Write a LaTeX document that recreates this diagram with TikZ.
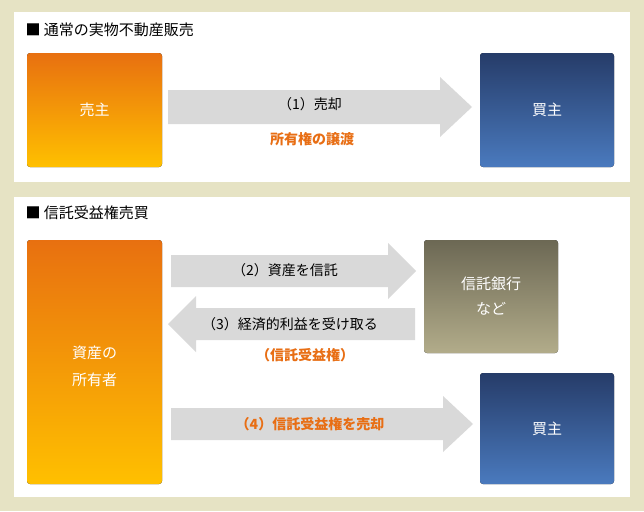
\documentclass[tikz,border=0pt]{standalone}
\usepackage{fontspec}
\setmainfont{Noto Sans CJK JP}
\definecolor{bg}{RGB}{230,227,196}
\definecolor{arrgray}{RGB}{217,217,217}
\definecolor{otext}{RGB}{232,110,20}
\definecolor{otop}{RGB}{232,112,16}
\definecolor{obot}{RGB}{255,192,0}
\definecolor{btop}{RGB}{38,60,105}
\definecolor{bbot}{RGB}{74,122,190}
\definecolor{gtop}{RGB}{108,104,84}
\definecolor{gbot}{RGB}{178,172,138}
\begin{document}
\begin{tikzpicture}[x=1pt,y=-1pt,
  orangebox/.style={rounded corners=3pt,top color=otop,bottom color=obot},
  bluebox/.style={rounded corners=3pt,top color=btop,bottom color=bbot},
  graybox/.style={rounded corners=3pt,top color=gtop,bottom color=gbot},
  arr/.style={fill=arrgray},
  lbl/.style={font=\fontsize{14}{16}\selectfont,text=black},
  olbl/.style={font=\fontsize{14}{16}\selectfont\bfseries,text=otext},
  wlbl/.style={font=\fontsize{15}{17}\selectfont,text=white,align=center}]
\useasboundingbox (0,0) rectangle (644,511);
\fill[bg] (0,0) rectangle (644,511);
\fill[white] (14,12) rectangle (630,182);
\fill[white] (14,197) rectangle (630,497);
\node[anchor=west,font=\fontsize{15}{17}\selectfont] (t1) at (22,30) {■ 通常の実物不動産販売};
\node[anchor=west,font=\fontsize{15}{17}\selectfont] (t2) at (22,213) {■ 信託受益権売買};
% panel 1
\fill[orangebox] (27,53) rectangle (162,167);
\node[wlbl] (seller) at (94.5,110) {売主};
\fill[bluebox] (480,53) rectangle (614,167);
\node[wlbl] (buyer1) at (547,110) {買主};
\fill[arr] (168,90) -- (440,90) -- (440,77) -- (472,107) -- (440,137) -- (440,124) -- (168,124) -- cycle;
\node[lbl] (l1) at (310,104) {（1）売却};
\node[olbl] (o1) at (312,139) {所有権の譲渡};
% panel 2
\fill[orangebox] (27,240) rectangle (162,484);
\node[wlbl] (owner) at (94.5,366) {資産の\\[10pt]所有者};
\fill[graybox] (424,240) rectangle (558,353);
\node[wlbl] (bank) at (491,296) {信託銀行\\[8pt]など};
\fill[bluebox] (480,373) rectangle (614,484);
\node[wlbl] (buyer2) at (547,429) {買主};
\fill[arr] (171,255) -- (388,255) -- (388,243) -- (416,271) -- (388,299) -- (388,287) -- (171,287) -- cycle;
\node[lbl] (l2) at (285,270) {（2）資産を信託};
\fill[arr] (415,308) -- (196,308) -- (196,296) -- (168,324) -- (196,352) -- (196,340) -- (415,340) -- cycle;
\node[lbl] (l3) at (290,324) {（3）経済的利益を受け取る};
\node[olbl] (o3) at (305,355) {（信託受益権）};
\fill[arr] (171,408) -- (443,408) -- (443,396) -- (473,424) -- (443,452) -- (443,440) -- (171,440) -- cycle;
\node[olbl] (o4) at (310,424) {（4）信託受益権を売却};
\end{tikzpicture}
\end{document}
